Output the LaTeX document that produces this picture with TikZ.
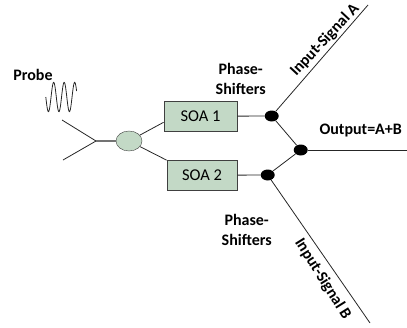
\documentclass[tikz,border=0pt]{standalone}
\usepackage{fontspec}
\setmainfont{Carlito}
\usetikzlibrary{shapes.geometric}

\begin{document}
\begin{tikzpicture}[
  x=1pt, y=-1pt,
  line/.style={draw=black!85, line width=0.8pt},
  soa/.style={
    draw=black!75, thick, fill=soagreen, inner sep=0pt,
    minimum height=29.5pt, font=\fontsize{16.5}{18}\selectfont
  },
  splitter/.style={
    ellipse, draw=black!75, fill=soagreen, inner sep=0pt,
    minimum width=26pt, minimum height=20pt
  },
  shifter/.style={
    ellipse, fill=black, inner sep=0pt,
    minimum width=14pt, minimum height=11pt
  },
  lbl/.style={
    font=\fontsize{16}{20}\selectfont\bfseries, align=center, inner sep=0pt
  }
]
\definecolor{soagreen}{HTML}{C3D9C6}
\useasboundingbox (0,0) rectangle (407,327);

% Free ends of the lines
\coordinate (upperarm) at (62,120);
\coordinate (lowerarm) at (63,160);
\coordinate (junction) at (96,141);
\coordinate (inputa) at (368,5);
\coordinate (inputb) at (370,323);
\coordinate (output) at (407,150);

% Splitter and amplifiers
\node[splitter] (split) at (129,141) {};
\node[soa, minimum width=73pt] (soaone) at (200.5,116.3) {SOA 1};
\node[soa, minimum width=70pt] (soatwo) at (202,175.3) {SOA 2};

% Phase shifters
\node[shifter] (dotone) at (271.7,116) {};
\node[shifter] (dottwo) at (267.7,175) {};
\node[shifter] (dotout) at (300.7,150) {};

% Lines
\draw[line] (upperarm) -- (junction) -- (lowerarm);
\draw[line, draw=black!55, line width=1.2pt] (junction) -- (split);
\draw[line] (split) -- ([yshift=-6pt]soaone.west);
\draw[line] (split) -- (soatwo.north west);
\draw[line] (soaone) -- (dotone);
\draw[line] (soatwo) -- (dottwo);
\draw[line] (dotone) -- (inputa);
\draw[line] (dotone) -- (dotout);
\draw[line] (dottwo) -- (dotout);
\draw[line] (dottwo) -- (inputb);
\draw[line] (dotout) -- (output);

% Probe wave
\draw[line] plot[domain=0:30.8, samples=80, smooth] ({45.8+\x}, {97+14.7*sin(\x*360/10.5)});

% Labels
\node[lbl] (probe) at (33,75) {Probe};
\node[lbl] (phaseone) at (240.7,79) {Phase-\\Shifters};
\node[lbl] (phasetwo) at (246.7,230) {Phase-\\Shifters};
\node[lbl] (outlabel) at (360.7,131) {Output=A+B};
\node[lbl, rotate=47] (inlabela) at (325,40) {Input-Signal A};
\node[lbl, rotate=-58] (inlabelb) at (322.7,279) {Input-Signal B};

\end{tikzpicture}
\end{document}
